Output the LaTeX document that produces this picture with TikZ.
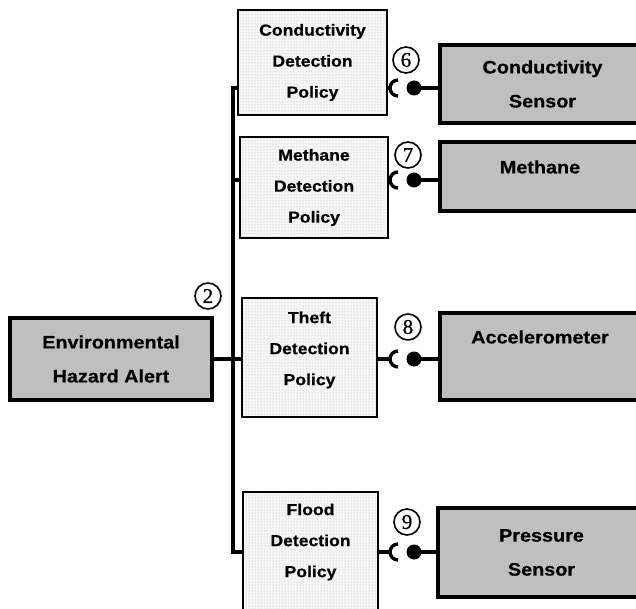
\documentclass[tikz,border=0pt]{standalone}
\usepackage{fontspec}
\setmainfont{Liberation Sans}
\newfontfamily\lbl{Liberation Sans}[FakeStretch=1.1, FakeBold=0.6]
\newfontfamily\numfont{Liberation Serif}[FakeBold=0.8]
\usetikzlibrary{patterns}
\begin{document}
\begin{tikzpicture}[x=1pt,y=-1pt,
 policy/.style={draw, line width=2.3pt, preaction={fill=gray!6}, pattern=dots, pattern color=gray!60, inner sep=0pt, align=center, font={\lbl\bfseries\fontsize{16}{31}\selectfont}},
 ptext/.style={align=center, inner sep=0pt, font={\lbl\bfseries\fontsize{16}{31}\selectfont}},
 sensor/.style={draw, line width=3.8pt, fill=black!25, inner sep=0pt, align=center, font={\lbl\bfseries\fontsize{18}{34}\selectfont}},
 stext/.style={align=center, inner sep=0pt, font={\lbl\bfseries\fontsize{18}{34}\selectfont}},
 num/.style={circle, draw, line width=1.6pt, minimum size=26pt, inner sep=0pt, font={\numfont\fontsize{21}{21}\selectfont}},
 wire/.style={line width=3.2pt},
 socket/.style={line width=3.4pt},
 ball/.style={circle, fill=black, minimum size=15pt, inner sep=0pt}
]
\useasboundingbox (0,0) rectangle (636,609);

% policy boxes
\node[policy, minimum width=149pt, minimum height=105pt] (pc) at (312.5,62.5) {Conductivity\\Detection\\Policy};
\node[policy, minimum width=148pt, minimum height=101pt] (pm) at (314,187.5) {Methane\\Detection\\Policy};
\node[policy, minimum width=135pt, minimum height=119pt] (pt) at (309.5,357.5) {};
\node[ptext] (ptl) at (309.5,350) {Theft\\Detection\\Policy};
\node[policy, minimum width=135pt, minimum height=150pt] (pf) at (310.5,567) {};
\node[ptext] (pfl) at (310.5,542) {Flood\\Detection\\Policy};

% sensor boxes
\node[sensor, minimum width=205pt, minimum height=78pt] (sc) at (542.5,84) {Conductivity\\Sensor};
\node[sensor, minimum width=205pt, minimum height=69pt] (sm) at (542.5,176.5) {};
\node[stext] (sml) at (540,167) {Methane};
\node[sensor, minimum width=205pt, minimum height=87pt] (sa) at (542.5,356.5) {};
\node[stext] (sal) at (540,337) {Accelerometer};
\node[sensor, minimum width=207pt, minimum height=89pt] (sp) at (541.5,552.5) {Pressure\\Sensor};

% alert box
\node[sensor, minimum width=202pt, minimum height=82pt] (eha) at (111,359) {Environmental\\Hazard Alert};

% numbers
\node[num] (n6) at (406,60) {6};
\node[num] (n7) at (408,155) {7};
\node[num] (n8) at (408,327) {8};
\node[num] (n9) at (407,522) {9};
\node[num] (n2) at (208,296) {2};

% socket centres and balls
\coordinate (c6) at (398,88);
\coordinate (c7) at (398,180);
\coordinate (c8) at (398,359);
\coordinate (c9) at (398,552);
\node[ball] (b6) at (414,88) {};
\node[ball] (b7) at (414,180) {};
\node[ball] (b8) at (414,359) {};
\node[ball] (b9) at (414,552) {};

\foreach \p/\c/\b/\s in {pc/c6/b6/sc, pm/c7/b7/sm, pt/c8/b8/sa, pf/c9/b9/sp}{
  \draw[wire] (\p.east |- \c) -- ([xshift=-8pt]\c);
  \draw[socket] ([yshift=8pt]\c) arc[start angle=90, end angle=270, radius=8pt];
  \draw[wire] (\b.center) -- (\s.west |- \b);
}

% bus
\coordinate (bt) at (233,88);
\coordinate (bb) at (233,552);
\draw[wire] (pc.west |- bt) -- (bt) -- (bb) -- (pf.west |- bb);
\draw[wire] (bt |- c7) -- (pm.west |- c7);
\draw[wire] (bt |- c8) -- (pt.west |- c8);
\draw[wire] (eha.east |- c8) -- (bt |- c8);
\end{tikzpicture}
\end{document}
